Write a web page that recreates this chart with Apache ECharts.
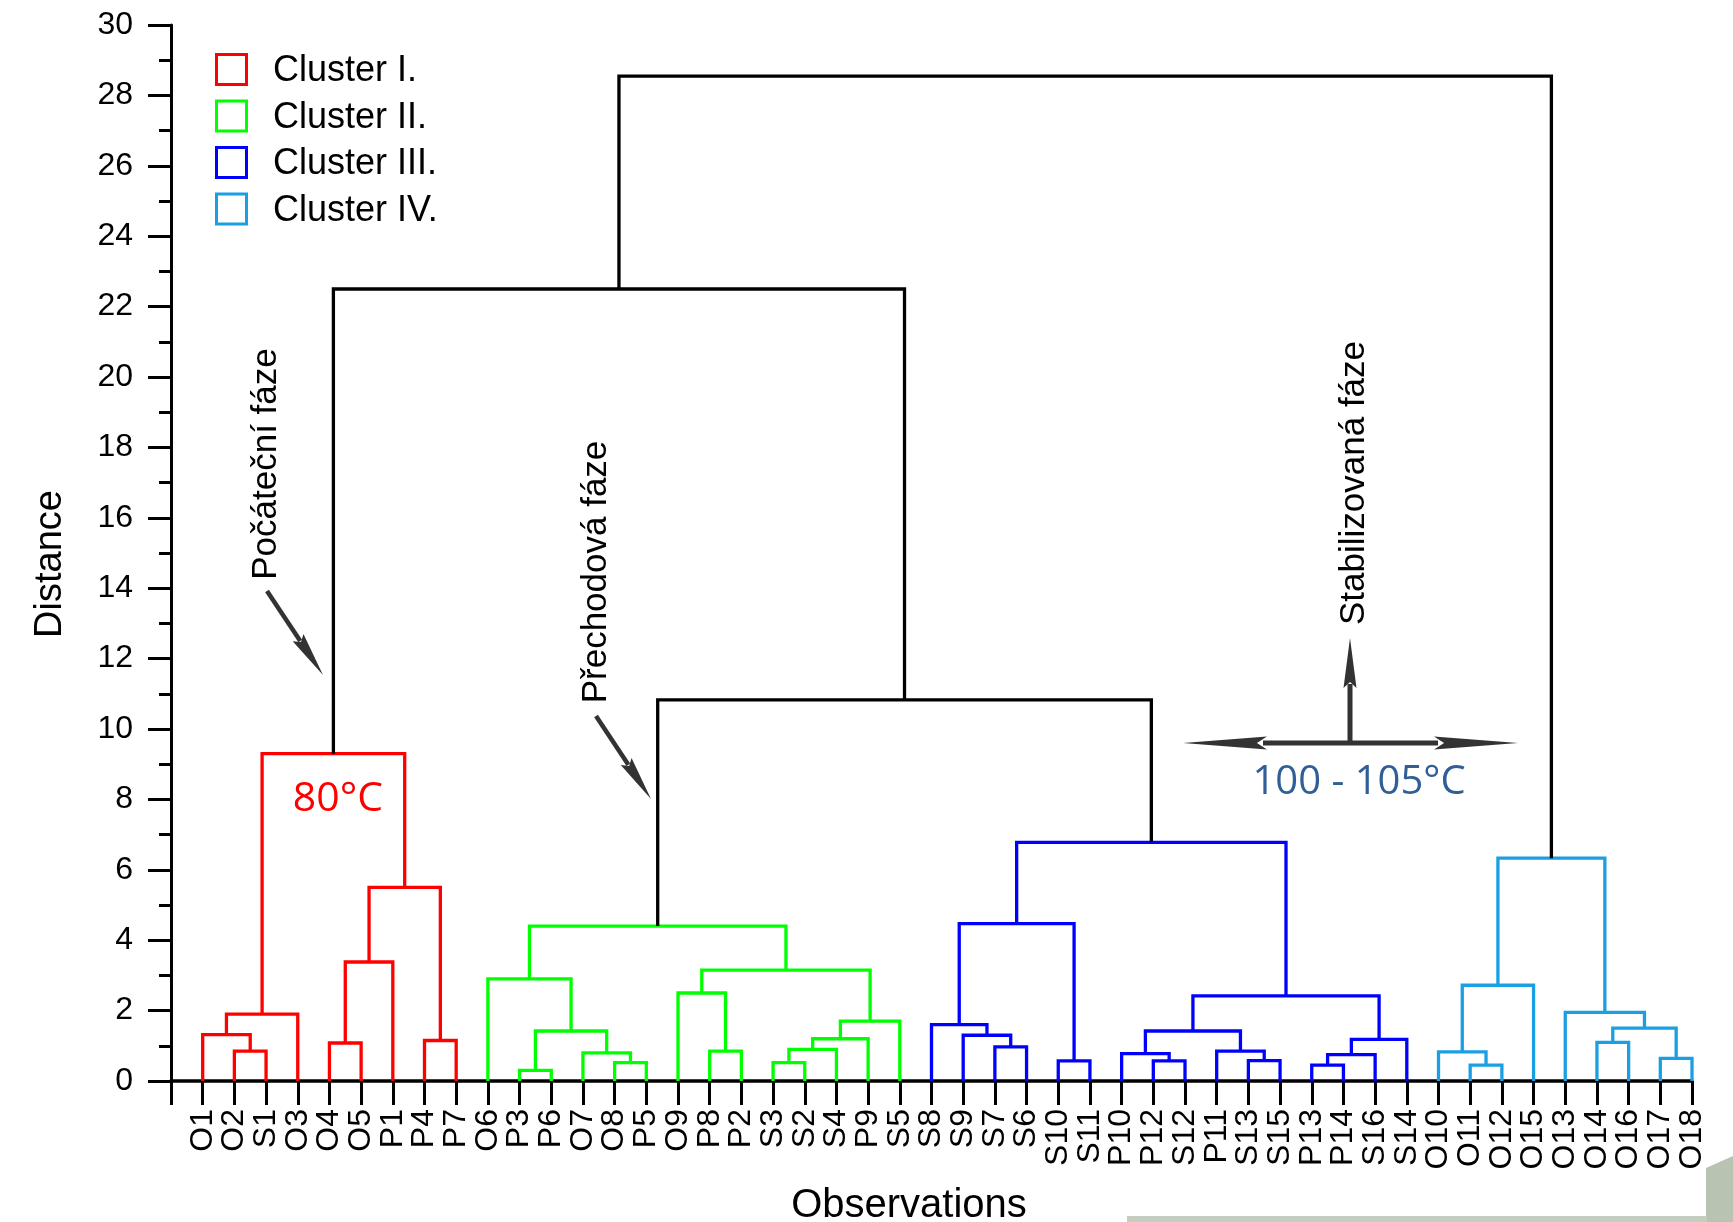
<!DOCTYPE html>
<html><head><meta charset="utf-8">
<script src="https://cdn.jsdelivr.net/npm/echarts@6/dist/echarts.min.js"></script>
<style>html,body{margin:0;padding:0;background:#fff}#c{width:1733px;height:1222px}</style>
</head><body><div id="c"></div>
<script>
// ---- data ----
const leaves = ['O1','O2','S1','O3','O4','O5','P1','P4','P7',
  'O6','P3','P6','O7','O8','P5','O9','P8','P2','S3','S2','S4','P9','S5',
  'S8','S9','S7','S6','S10','S11','P10','P12','S12','P11','S13','S15','P13','P14','S16','S14',
  'O10','O11','O12','O15','O13','O14','O16','O17','O18'];
// linkage rows: left node, right node (leaf name or '#row'), merge distance, cluster (-1 = between clusters)
const linkLeft   = ['O2','O1','#1','O4','#3','P4','#4','#2',
  'P3','O8','O7','#8','O6','P8','O9','S3','#15','#16','#17','#14','#12',
  'S7','S9','S8','S10','#23','P12','P10','S13','P11','#27','P13','#31','#32','#30','#25',
  'O11','O10','#37','O14','O17','#39','O13','#38',
  '#20','#7','#45'];
const linkRight  = ['S1','#0','O3','O5','P1','P7','#5','#6',
  'P6','P5','#9','#10','#11','P2','#13','S2','S4','P9','S5','#18','#19',
  'S6','#21','#22','S11','#24','S12','#26','S15','#28','#29','P14','S16','S14','#33','#34',
  'O12','#36','O15','O16','O18','#40','#41','#42',
  '#35','#44','#43'];
const linkHeight = [0.85,1.32,1.90,1.08,3.38,1.15,5.50,9.30,
  0.30,0.52,0.80,1.42,2.90,0.85,2.50,0.52,0.90,1.20,1.70,3.15,4.40,
  0.97,1.30,1.60,0.57,4.47,0.57,0.78,0.58,0.85,1.42,0.45,0.75,1.18,2.42,6.78,
  0.45,0.83,2.72,1.10,0.64,1.50,1.95,6.33,
  10.83,22.50,28.55];
const linkCluster = [0,0,0,0,0,0,0,0,
  1,1,1,1,1,1,1,1,1,1,1,1,1,
  2,2,2,2,2,2,2,2,2,2,2,2,2,2,2,
  3,3,3,3,3,3,3,3,
  -1,-1,-1];
const clusterNames = ['Cluster I.','Cluster II.','Cluster III.','Cluster IV.'];
const clusterColors = ['#ff0000','#00ff00','#0000ff','#1aa0e2'];
const yTicks = [0,2,4,6,8,10,12,14,16,18,20,22,24,26,28,30];

// ---- dendrogram layout (midpoint of children) ----
const nodeX = {}, nodeH = {};
leaves.forEach((n,i)=>{ nodeX[n]=i; nodeH[n]=0; });
const segs = [];
linkLeft.forEach((a,k)=>{
  const b = linkRight[k], h = linkHeight[k];
  const xa = nodeX[a], xb = nodeX[b];
  const col = linkCluster[k] < 0 ? '#000000' : clusterColors[linkCluster[k]];
  segs.push({coords:[[xa,nodeH[a]],[xa,h],[xb,h],[xb,nodeH[b]]], lineStyle:{color:col}});
  nodeX['#'+k] = (xa+xb)/2; nodeH['#'+k] = h;
});

// ---- annotation helpers ----
const ARW = '#333333';
function arrow(x1,y1,x2,y2,hl,hw,sw){
  const dx=x2-x1, dy=y2-y1, L=Math.hypot(dx,dy), ux=dx/L, uy=dy/L, px=-uy, py=ux;
  const bx=x2-ux*hl, by=y2-uy*hl;
  return [
    {type:'line', shape:{x1:x1,y1:y1,x2:bx+ux*4,y2:by+uy*4}, style:{stroke:ARW,lineWidth:sw}},
    {type:'polygon', shape:{points:[[x2,y2],[bx+px*hw,by+py*hw],[bx+ux*hl*0.12,by+uy*hl*0.12],[bx-px*hw,by-py*hw]]}, style:{fill:ARW}}
  ];
}
function vtext(t,x,y,size){
  return {type:'text', x:x, y:y, rotation:Math.PI/2,
    style:{text:t, font:size+'px "Liberation Sans", Arial, sans-serif', fill:'#000', textAlign:'center', textVerticalAlign:'middle'}};
}
const graphics = [];
// legend
const legY = [69.5,116,162.5,209];
clusterNames.forEach((n,i)=>{
  graphics.push({type:'rect', shape:{x:216.5,y:legY[i]-15,width:30,height:30}, style:{fill:'#fff',stroke:clusterColors[i],lineWidth:3}});
  graphics.push({type:'text', x:273, y:legY[i]+2, style:{text:n, font:'36px "Liberation Sans", Arial, sans-serif', fill:'#000', textVerticalAlign:'middle'}});
});
graphics.push(vtext('Distance',51,564,38));
graphics.push({type:'text', x:909, y:1206, style:{text:'Observations', font:'40px "Liberation Sans", Arial, sans-serif', fill:'#000', textAlign:'center', textVerticalAlign:'middle'}});
graphics.push(vtext('Počáteční fáze',266,464,35));
graphics.push(vtext('Přechodová fáze',596,572,35));
graphics.push(vtext('Stabilizovaná fáze',1354,483,35));
graphics.push(...arrow(267,591,323,675,45,6.5,4.5));
graphics.push(...arrow(596,716,651,799,45,6.5,4.5));
graphics.push(...arrow(1350,745,1350,638,50,6.5,5));
graphics.push(...arrow(1350,743,1183,743,84,6.5,5));
graphics.push(...arrow(1350,743,1518,743,84,6.5,5));
graphics.push({type:'text', x:338, y:799, style:{text:'80°C', font:'41px "Open Sans", sans-serif', fill:'#ff0000', textAlign:'center', textVerticalAlign:'middle'}});
graphics.push({type:'text', x:1359, y:783, style:{text:'100 - 105°C', font:'40px "Open Sans", sans-serif', fill:'#2f5f96', textAlign:'center', textVerticalAlign:'middle'}});
// faint background remnants at bottom-right
graphics.push({type:'polygon', shape:{points:[[1706,1168],[1733,1156],[1733,1222],[1706,1222]]}, style:{fill:'#b9c3b1'}, z:-10});
graphics.push({type:'rect', shape:{x:1127,y:1216,width:580,height:6}, style:{fill:'#c5ccc0'}, z:-10});

const chart = echarts.init(document.getElementById('c'), null, {renderer:'canvas'});
chart.setOption({
  animation:false,
  backgroundColor:'#ffffff',
  grid:{left:171, right:41, top:25, bottom:141, containLabel:false},
  xAxis:[
    // visible axis: one slot at the y-axis, then one per leaf
    {type:'category', data:[''].concat(leaves), boundaryGap:false,
      axisLine:{onZero:false, lineStyle:{color:'#000', width:3.5}},
      axisTick:{interval:0, length:24, lineStyle:{color:'#000', width:3}},
      splitLine:{show:false},
      axisLabel:{interval:0, rotate:90, margin:28, color:'#000', fontSize:32, fontFamily:'"Liberation Sans", Arial, sans-serif'}
    },
    // hidden value axis used to place the dendrogram (same span)
    {type:'value', min:-1, max:leaves.length-1, show:false, position:'bottom'}
  ],
  yAxis:{type:'value', min:yTicks[0], max:yTicks[yTicks.length-1], interval:2,
    axisLine:{show:true, onZero:false, lineStyle:{color:'#000', width:3}},
    axisTick:{show:true, length:23, lineStyle:{color:'#000', width:3}},
    minorTick:{show:true, splitNumber:2, length:12, lineStyle:{color:'#000', width:3}},
    splitLine:{show:false}, minorSplitLine:{show:false},
    axisLabel:{margin:38, color:'#000', fontSize:32, fontFamily:'"Liberation Sans", Arial, sans-serif'}
  },
  series:[{type:'lines', coordinateSystem:'cartesian2d', xAxisIndex:1, yAxisIndex:0, polyline:true, silent:true, z:3,
    lineStyle:{width:3.3, opacity:1, cap:'butt', join:'miter'}, data:segs}],
  graphic:graphics
});
</script></body></html>
